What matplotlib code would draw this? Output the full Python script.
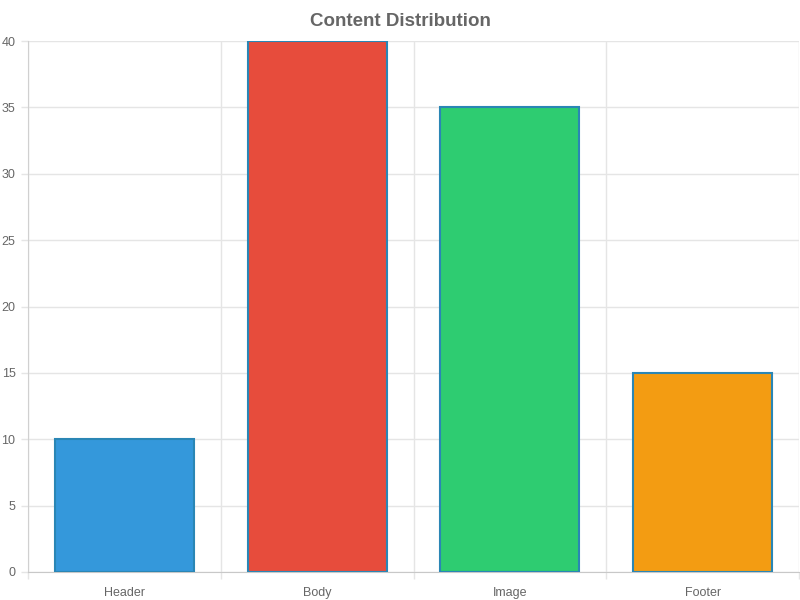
import matplotlib
matplotlib.use("Agg")
import matplotlib.pyplot as plt
import numpy as np

plt.rcParams['font.family'] = ['Liberation Sans', 'DejaVu Sans']

categories = ["Header", "Body", "Image", "Footer"]
values = [10, 40, 35, 15]
colors = ["#3498db", "#e74c3c", "#2ecc71", "#f39c12"]

fig = plt.figure(figsize=(8, 6), dpi=100)
ax = fig.add_axes([28/800, 28/600, 771/800, 531/600])

x = np.arange(len(categories))
ax.bar(x, values, width=0.72, color=colors, edgecolor="#2a86b5", linewidth=1.5, zorder=3)

ax.set_xlim(-0.5, len(categories) - 0.5)
ax.set_ylim(0, 40)
ax.set_yticks(np.arange(0, 41, 5))
ax.set_xticks(x)
ax.set_xticklabels(categories)
ax.set_xticks(np.arange(-0.5, len(categories), 1.0), minor=True)

ax.grid(axis="y", which="major", color="#e5e5e5", linewidth=1, zorder=0)
ax.grid(axis="x", which="minor", color="#e5e5e5", linewidth=1, zorder=0)
ax.tick_params(axis="x", which="major", length=0, pad=11, labelsize=9, labelcolor="#666666")
ax.tick_params(axis="x", which="minor", length=5, color="#e5e5e5", width=1)
ax.tick_params(axis="y", length=5, color="#e5e5e5", width=1, pad=4, labelsize=9, labelcolor="#666666")

for side in ["top", "right"]:
    ax.spines[side].set_visible(False)
ax.spines["left"].set_color("#d0d0d0")
ax.spines["bottom"].set_color("#c8c8c8")

fig.text(0.5, 1 - 22/600, "Content Distribution", ha="center", va="center",
         fontsize=13.5, fontweight="bold", color="#666666")

fig.savefig("out.png", dpi=100)
